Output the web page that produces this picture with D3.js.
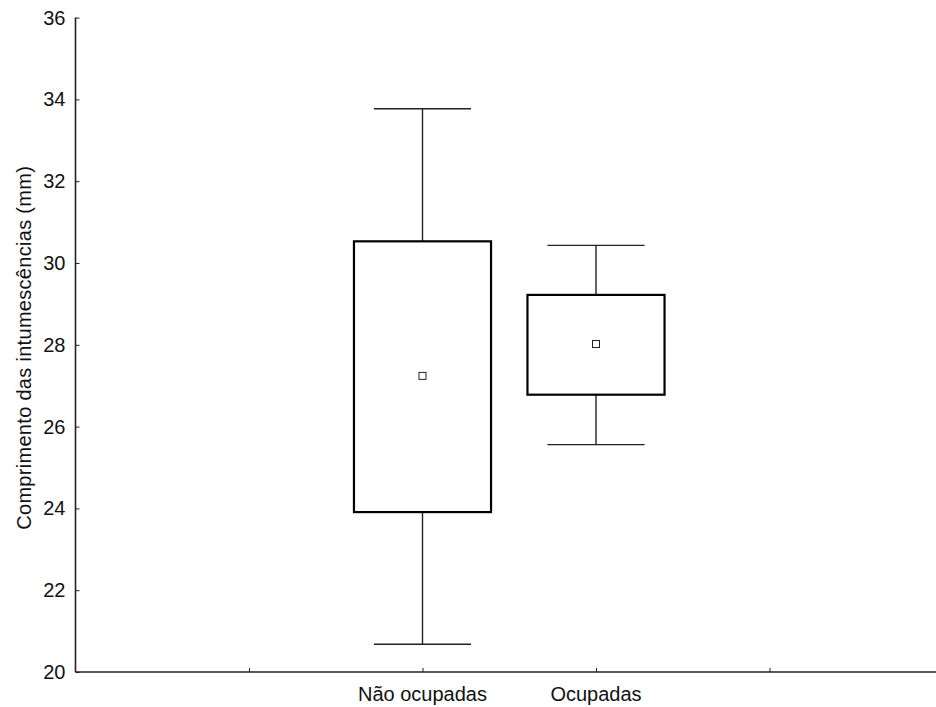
<!DOCTYPE html>
<html>
<head>
<meta charset="utf-8">
<script src="https://cdn.jsdelivr.net/npm/d3@7"></script>
<style>
  body { margin: 0; background: #fff; }
  svg { display: block; font-family: "Liberation Sans", Arial, sans-serif; }
</style>
</head>
<body>
<svg id="chart"></svg>
<script>
// ── Data ──────────────────────────────────────────────────────────────────────
const categories = ["Não ocupadas", "Ocupadas"];
const catPos     = [2, 3];
const whiskerLo  = [20.68, 25.56];
const boxLo      = [23.91, 26.78];
const means      = [27.24, 28.02];
const boxHi      = [30.53, 29.22];
const whiskerHi  = [33.77, 30.43];
const yTicks     = [20, 22, 24, 26, 28, 30, 32, 34, 36];
const xTicks     = [1, 2, 3, 4];

// ── Layout ────────────────────────────────────────────────────────────────────
const VW = 936, VH = 707;
const svg = d3.select("#chart").attr("width", VW).attr("height", VH);

const x = d3.scaleLinear().domain([0, 5]).range([75.5, 943]);
const y = d3.scaleLinear().domain([20, 36]).range([672, 17.6]);

const BOX_W = 0.79, CAP_W = 0.56;

// Y axis (inner ticks)
const yAxisG = svg.append("g").attr("transform", `translate(${x(0)},0)`)
  .call(d3.axisRight(y).tickValues(yTicks).tickSize(4).tickFormat(d3.format("d")));
yAxisG.select(".domain").remove();
yAxisG.selectAll(".tick line").attr("stroke", "#222").attr("stroke-width", 1);
yAxisG.selectAll(".tick text")
  .attr("x", -10).attr("text-anchor", "end")
  .attr("font-size", "20px").attr("fill", "#111");
yAxisG.append("line")
  .attr("y1", y(36)).attr("y2", y(20))
  .attr("stroke", "#222").attr("stroke-width", 1.6);

// X axis (inner ticks)
const xAxisG = svg.append("g").attr("transform", `translate(0,${y(20)})`)
  .call(d3.axisTop(x).tickValues(xTicks).tickSize(4).tickFormat(""));
xAxisG.select(".domain").remove();
xAxisG.selectAll(".tick line").attr("stroke", "#222").attr("stroke-width", 1);
xAxisG.append("line")
  .attr("x1", x(0)).attr("x2", VW)
  .attr("stroke", "#222").attr("stroke-width", 1.6);
xAxisG.selectAll("text.cat-lbl")
  .data(categories)
  .join("text")
  .attr("class", "cat-lbl")
  .attr("x", (d, i) => x(catPos[i]))
  .attr("y", 29)
  .attr("text-anchor", "middle")
  .attr("font-size", "20px").attr("fill", "#111")
  .text(d => d);

// Y axis title
svg.append("text")
  .attr("transform", `translate(31,${(y(20) + y(36)) / 2 + 3}) rotate(-90)`)
  .attr("text-anchor", "middle")
  .attr("font-size", "20px").attr("fill", "#111")
  .attr("letter-spacing", "0.3px")
  .text("Comprimento das intumescências (mm)");

// ── Boxes ─────────────────────────────────────────────────────────────────────
const boxes = svg.append("g");
categories.forEach((c, i) => {
  const cx = x(catPos[i]);
  const g = boxes.append("g");

  // whiskers
  g.append("line")
    .attr("x1", cx).attr("x2", cx)
    .attr("y1", y(whiskerHi[i])).attr("y2", y(boxHi[i]))
    .attr("stroke", "#222").attr("stroke-width", 1.4);
  g.append("line")
    .attr("x1", cx).attr("x2", cx)
    .attr("y1", y(boxLo[i])).attr("y2", y(whiskerLo[i]))
    .attr("stroke", "#222").attr("stroke-width", 1.4);
  [whiskerHi[i], whiskerLo[i]].forEach(v => {
    g.append("line")
      .attr("x1", x(catPos[i] - CAP_W / 2)).attr("x2", x(catPos[i] + CAP_W / 2))
      .attr("y1", y(v)).attr("y2", y(v))
      .attr("stroke", "#222").attr("stroke-width", 1.4);
  });

  // box
  g.append("rect")
    .attr("x", x(catPos[i] - BOX_W / 2))
    .attr("width", x(catPos[i] + BOX_W / 2) - x(catPos[i] - BOX_W / 2))
    .attr("y", y(boxHi[i]))
    .attr("height", y(boxLo[i]) - y(boxHi[i]))
    .attr("fill", "#fff").attr("stroke", "#000").attr("stroke-width", 2.2);

  // mean marker
  g.append("rect")
    .attr("x", cx - 3.5).attr("y", y(means[i]) - 3.5)
    .attr("width", 7).attr("height", 7)
    .attr("fill", "#fff").attr("stroke", "#222").attr("stroke-width", 1);
});
</script>
</body>
</html>
